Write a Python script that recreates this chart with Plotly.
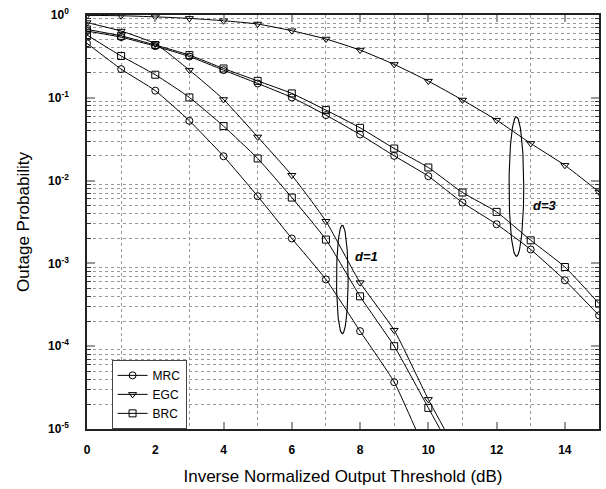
import numpy as np
import plotly.graph_objects as go

# ---------------- data ----------------
x_d1 = list(range(0, 12))
mrc_d1 = [0.455, 0.222, 0.122, 0.0527, 0.0197, 0.00648, 0.0020, 6.4e-4, 1.52e-4, 3.68e-5, 4.5e-6, 6e-7]
egc_d1 = [0.81, 0.64, 0.45, 0.216, 0.0955, 0.0337, 0.0116, 0.00323, 5.86e-4, 1.56e-4, 2.28e-5, 4.0e-6]
brc_d1 = [0.573, 0.32, 0.19, 0.101, 0.0455, 0.0185, 0.00624, 0.00194, 4.0e-4, 1.0e-4, 1.8e-5, 3.2e-6]

x_d3 = list(range(0, 16))
mrc_d3 = [0.64, 0.54, 0.42, 0.315, 0.216, 0.149, 0.101, 0.0618, 0.036, 0.0199,
          0.0113, 0.00543, 0.00297, 0.00147, 6.25e-4, 2.36e-4]
egc_d3 = [0.99, 0.98, 0.95, 0.91, 0.853, 0.778, 0.646, 0.513, 0.377, 0.253,
          0.159, 0.094, 0.0537, 0.0281, 0.0153, 0.0073]
brc_d3 = [0.67, 0.56, 0.434, 0.328, 0.226, 0.16, 0.113, 0.071, 0.0434, 0.0244,
          0.0144, 0.00718, 0.00419, 0.0019, 9.05e-4, 3.27e-4]

x_ticks = [0, 2, 4, 6, 8, 10, 12, 14]
y_decades = [1e-5, 1e-4, 1e-3, 1e-2, 1e-1, 1e0]
y_ticktext = ["10<sup>-5</sup>", "10<sup>-4</sup>", "10<sup>-3</sup>",
              "10<sup>-2</sup>", "10<sup>-1</sup>", "10<sup>0</sup>"]
series_names = ["MRC", "EGC", "BRC"]
series_symbols = ["circle-open", "triangle-down-open", "square-open"]

# ellipse annotations: (center x, center log10 y, half width dB, half height decades, label, label x, label log y)
ellipses = [
    (7.48, -3.194, 0.17, 0.655, "d=1", 8.19, -2.914),
    (12.58, -2.072, 0.215, 0.842, "d=3", 13.43, -2.306),
]

FONT = "Liberation Sans, Arial, sans-serif"

fig = go.Figure()

d1 = [mrc_d1, egc_d1, brc_d1]
d3 = [mrc_d3, egc_d3, brc_d3]
for name, sym, yv1, yv3 in zip(series_names, series_symbols, d1, d3):
    for xv, yv, show in [(x_d1, yv1, True), (x_d3, yv3, False)]:
        fig.add_trace(go.Scatter(
            x=xv, y=yv, mode="lines+markers", name=name, showlegend=show,
            legendgroup=name,
            line=dict(color="black", width=1, shape="spline", smoothing=0.5),
            marker=dict(symbol=sym, size=7, color="black", line=dict(width=1)),
            cliponaxis=True,
        ))

t = np.linspace(0, 2 * np.pi, 120)
annotations = []
for cx, cy, a, b, label, lx, ly in ellipses:
    fig.add_trace(go.Scatter(
        x=cx + a * np.cos(t), y=10 ** (cy + b * np.sin(t)), mode="lines",
        line=dict(color="black", width=1.1), showlegend=False, hoverinfo="skip"))
    annotations.append(dict(x=lx, y=ly, xref="x", yref="y", text="<b><i>" + label + "</i></b>",
                            showarrow=False, font=dict(family=FONT, size=13, color="black")))

minor_vals = [m * 10 ** k for k in range(-5, 0) for m in range(2, 10)]

fig.update_layout(
    width=606, height=489,
    margin=dict(l=87, r=7, t=15, b=60),
    paper_bgcolor="white", plot_bgcolor="white",
    font=dict(family=FONT, color="black"),
    showlegend=True,
    legend=dict(x=0.048, y=0.167, xanchor="left", yanchor="top",
                bgcolor="white", bordercolor="#444", borderwidth=1,
                font=dict(family=FONT, size=12), tracegroupgap=0,
                itemwidth=30),
    annotations=annotations,
    xaxis=dict(
        range=[0, 15], tickmode="array", tickvals=x_ticks,
        ticks="inside", ticklen=7, tickwidth=2, tickcolor="#999",
        showgrid=False, zeroline=False, automargin=False,
        showline=True, linecolor="#222", linewidth=1.5, mirror="ticks",
        tickfont=dict(family=FONT, size=12, weight="bold"),
        ticklabelstandoff=9,
        title=dict(text="Inverse Normalized Output Threshold (dB)",
                   font=dict(family=FONT, size=17), standoff=14),
        minor=dict(tickmode="array", tickvals=[1, 3, 5, 7, 9, 11, 13], ticks="",
                   showgrid=True, gridcolor="#999", gridwidth=1, griddash="dot"),
    ),
    yaxis=dict(
        type="log", range=[-5, 0], tickmode="array", tickvals=y_decades,
        ticktext=["<b>" + s + "</b>" for s in y_ticktext],
        ticks="inside", ticklen=8, tickwidth=2, tickcolor="#999",
        showgrid=False, zeroline=False, automargin=False,
        showline=True, linecolor="#222", linewidth=1.5, mirror="ticks",
        tickfont=dict(family=FONT, size=12),
        ticklabelstandoff=14,
        title=dict(text="Outage Probability", font=dict(family=FONT, size=17), standoff=14),
        minor=dict(tickmode="array", tickvals=minor_vals, ticks="inside", ticklen=4,
                   tickcolor="#333", tickwidth=1,
                   showgrid=True, gridcolor="#999", gridwidth=1, griddash="dot"),
    ),
)

fig.write_html("out.html")
